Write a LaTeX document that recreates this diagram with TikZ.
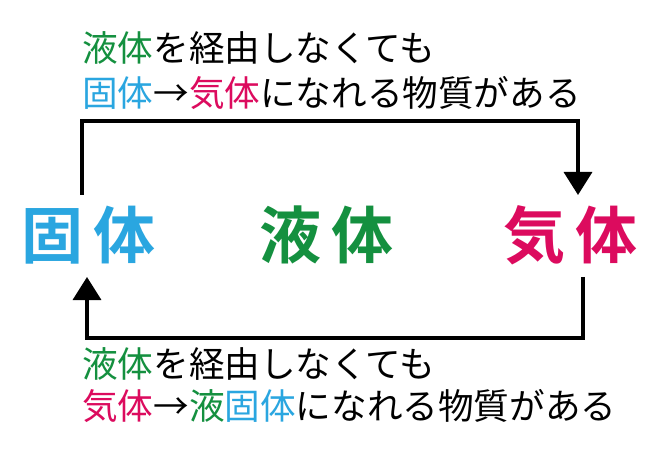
\documentclass[tikz,border=0pt]{standalone}
\usepackage{fontspec}
\newfontfamily\jp{Noto Sans CJK JP}
\newfontfamily\jpb{Noto Sans CJK JP Bold}
\usetikzlibrary{arrows.meta}
\definecolor{cblue}{HTML}{2AA6E0}
\definecolor{cgreen}{HTML}{14903F}
\definecolor{cmag}{HTML}{DC0B5E}
\begin{document}
\begin{tikzpicture}[x=1bp,y=-1bp,
  note/.style={anchor=base west,inner sep=0pt,font=\jp\fontsize{35.6bp}{40bp}\selectfont},
  state/.style={anchor=base west,inner sep=0pt,font=\jpb\fontsize{62bp}{64bp}\selectfont},
  conn/.style={line width=3.5bp,-{Triangle[width=28bp,length=23bp]}}]
\useasboundingbox[fill=white] (0,0) rectangle (664,457);
\node[note] (t1) at (82,62) {\textcolor{cgreen}{液体}を経由しなくても};
\node[note] (t2) at (82,107) {\textcolor{cblue}{固体}→\textcolor{cmag}{気体}になれる物質がある};
\node[state,text=cblue] (solid) at (21,259) {固\hspace{10bp}体};
\node[state,text=cgreen] (liquid) at (259,259) {液\hspace{10bp}体};
\node[state,text=cmag] (gas) at (503,259) {気\hspace{10bp}体};
\node[note] (b1) at (82,377) {\textcolor{cgreen}{液体}を経由しなくても};
\node[note] (b2) at (82,419) {\textcolor{cmag}{気体}→\textcolor{cgreen}{液}\textcolor{cblue}{固体}になれる物質がある};
\coordinate (s1) at (82,195);
\coordinate (e1) at (578,195);
\coordinate (s2) at (583,277);
\coordinate (e2) at (87,277);
\draw[conn] (s1) -- (82,121) -- (578,121) -- (e1);
\draw[conn] (s2) -- (583,338) -- (87,338) -- (e2);
\end{tikzpicture}
\end{document}
